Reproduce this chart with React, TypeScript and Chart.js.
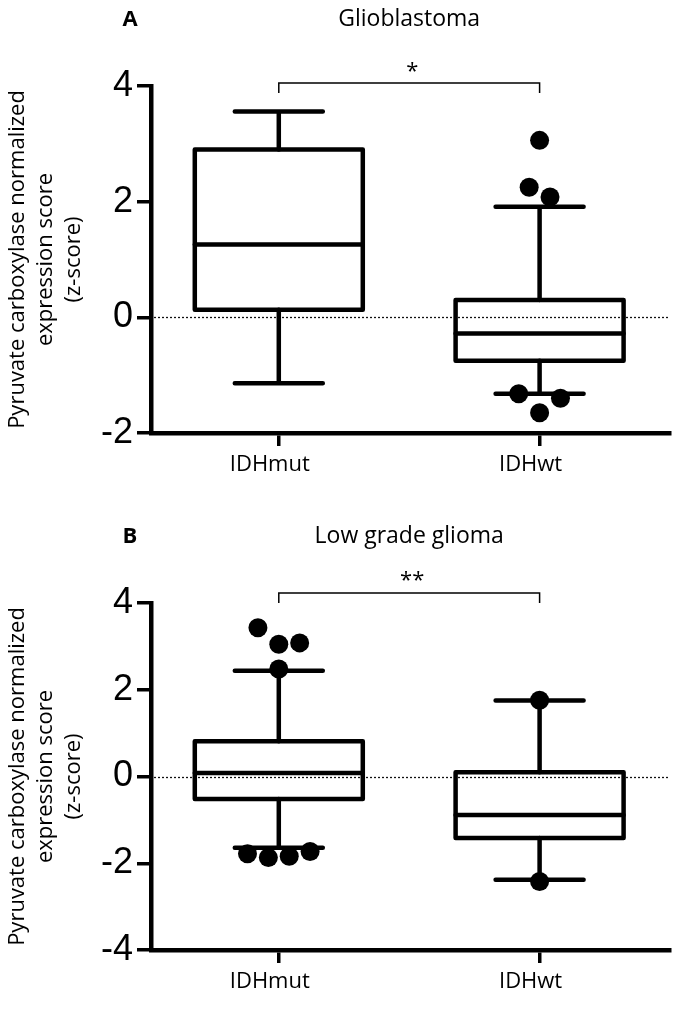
import React, { useEffect, useRef } from 'react';
import { Chart, registerables } from 'chart.js';

Chart.register(...registerables);

const categories = ['IDHmut', 'IDHwt'];

// Panel A – Glioblastoma
const gbmWhiskerLow = [-1.14, -1.32];
const gbmQ1 = [0.13, -0.75];
const gbmMedian = [1.26, -0.28];
const gbmQ3 = [2.9, 0.3];
const gbmWhiskerHigh = [3.56, 1.91];
const gbmOutlierGroup = [1, 1, 1, 1, 1, 1];
const gbmOutlierJitter = [0, -0.04, 0.04, -0.08, 0.08, 0];
const gbmOutlierValue = [3.06, 2.25, 2.08, -1.32, -1.4, -1.65];
const gbmTicks = [-2, 0, 2, 4];

// Panel B – Low grade glioma
const lggWhiskerLow = [-1.64, -2.38];
const lggQ1 = [-0.52, -1.42];
const lggMedian = [0.08, -0.89];
const lggQ3 = [0.81, 0.1];
const lggWhiskerHigh = [2.44, 1.75];
const lggOutlierGroup = [0, 0, 0, 0, 0, 0, 0, 0, 1, 1];
const lggOutlierJitter = [-0.08, 0, 0.08, 0, -0.12, -0.04, 0.04, 0.12, 0, 0];
const lggOutlierValue = [3.43, 3.05, 3.08, 2.48, -1.78, -1.87, -1.84, -1.73, 1.76, -2.42];
const lggTicks = [-4, -2, 0, 2, 4];

const yTitleLines = ['Pyruvate carboxylase normalized', 'expression score', '(z-score)'];

type Panel = {
  letter: string;
  title: string;
  stars: string;
  low: number[];
  q1: number[];
  med: number[];
  q3: number[];
  high: number[];
  oGroup: number[];
  oJitter: number[];
  oValue: number[];
  yTicks: number[];
  canvasTop: number;
  height: number;
  areaTop: number;
  areaBottom: number;
  titleBaseline: number;
  starsBaseline: number;
  bracketY: number;
};

const W = 677;
const TEXT_FONT = '"Open Sans", "Noto Sans", sans-serif';

const panels: Panel[] = [
  {
    letter: 'A', title: 'Glioblastoma', stars: '*',
    low: gbmWhiskerLow, q1: gbmQ1, med: gbmMedian, q3: gbmQ3, high: gbmWhiskerHigh,
    oGroup: gbmOutlierGroup, oJitter: gbmOutlierJitter, oValue: gbmOutlierValue,
    yTicks: gbmTicks,
    canvasTop: 0, height: 490, areaTop: 86, areaBottom: 433,
    titleBaseline: 26, starsBaseline: 78, bracketY: 83,
  },
  {
    letter: 'B', title: 'Low grade glioma', stars: '**',
    low: lggWhiskerLow, q1: lggQ1, med: lggMedian, q3: lggQ3, high: lggWhiskerHigh,
    oGroup: lggOutlierGroup, oJitter: lggOutlierJitter, oValue: lggOutlierValue,
    yTicks: lggTicks,
    canvasTop: 490, height: 519, areaTop: 113, areaBottom: 460,
    titleBaseline: 53, starsBaseline: 97, bracketY: 103,
  },
];

const BOX_HALF = 84;
const CAP_HALF = 44;
const STROKE = 4.5;

function makePlugin(p: Panel) {
  return {
    id: 'boxplot' + p.letter,
    beforeDatasetsDraw(chart: any) {
      const ctx = chart.ctx as CanvasRenderingContext2D;
      const xs = chart.scales.x;
      const ys = chart.scales.y;
      const area = chart.chartArea;
      ctx.save();
      // dotted zero line
      ctx.strokeStyle = '#111';
      ctx.lineWidth = 1.3;
      ctx.setLineDash([2, 2]);
      ctx.beginPath();
      const y0 = Math.round(ys.getPixelForValue(0)) + 0.5;
      ctx.moveTo(area.left + 3, y0);
      ctx.lineTo(area.right, y0);
      ctx.stroke();
      ctx.setLineDash([]);
      // boxes
      ctx.strokeStyle = '#000';
      ctx.lineWidth = STROKE;
      ctx.lineJoin = 'round';
      ctx.lineCap = 'round';
      categories.forEach((_, i) => {
        const cx = xs.getPixelForValue(i + 1);
        const yLow = ys.getPixelForValue(p.low[i]);
        const yQ1 = ys.getPixelForValue(p.q1[i]);
        const yMed = ys.getPixelForValue(p.med[i]);
        const yQ3 = ys.getPixelForValue(p.q3[i]);
        const yHigh = ys.getPixelForValue(p.high[i]);
        ctx.beginPath();
        ctx.rect(cx - BOX_HALF, yQ3, BOX_HALF * 2, yQ1 - yQ3);
        ctx.stroke();
        ctx.beginPath();
        ctx.moveTo(cx - BOX_HALF, yMed);
        ctx.lineTo(cx + BOX_HALF, yMed);
        // whiskers
        ctx.moveTo(cx, yQ3);
        ctx.lineTo(cx, yHigh);
        ctx.moveTo(cx, yQ1);
        ctx.lineTo(cx, yLow);
        ctx.moveTo(cx - CAP_HALF, yHigh);
        ctx.lineTo(cx + CAP_HALF, yHigh);
        ctx.moveTo(cx - CAP_HALF, yLow);
        ctx.lineTo(cx + CAP_HALF, yLow);
        ctx.stroke();
      });
      ctx.restore();
    },
    afterDraw(chart: any) {
      const ctx = chart.ctx as CanvasRenderingContext2D;
      const xs = chart.scales.x;
      const area = chart.chartArea;
      const x1 = xs.getPixelForValue(1);
      const x2 = xs.getPixelForValue(categories.length);
      const mid = (x1 + x2) / 2;
      ctx.save();
      ctx.fillStyle = '#000';
      ctx.textBaseline = 'alphabetic';
      ctx.textAlign = 'center';
      ctx.font = `bold 22px ${TEXT_FONT}`;
      ctx.fillText(p.letter, 130, p.titleBaseline);
      ctx.font = `23px ${TEXT_FONT}`;
      ctx.fillText(p.title, mid, p.titleBaseline);
      ctx.font = `22px ${TEXT_FONT}`;
      ctx.fillText(p.stars, mid + 3, p.starsBaseline);
      // bracket
      ctx.strokeStyle = '#000';
      ctx.lineWidth = 1.5;
      ctx.beginPath();
      ctx.moveTo(x1, p.bracketY + 10);
      ctx.lineTo(x1, p.bracketY);
      ctx.lineTo(x2, p.bracketY);
      ctx.lineTo(x2, p.bracketY + 10);
      ctx.stroke();
      // y title
      const cy = (area.top + area.bottom) / 2;
      ctx.textBaseline = 'middle';
      ctx.font = `22px ${TEXT_FONT}`;
      const xsTitle = [18, 46, 74];
      yTitleLines.forEach((line, k) => {
        ctx.save();
        ctx.translate(xsTitle[k], cy);
        ctx.rotate(-Math.PI / 2);
        ctx.fillText(line, 0, 0);
        ctx.restore();
      });
      ctx.restore();
    },
  };
}

function PanelChart({ p }: { p: Panel }) {
  const ref = useRef<HTMLCanvasElement | null>(null);
  useEffect(() => {
    if (!ref.current) return;
    const points = p.oValue.map((v, k) => ({ x: p.oGroup[k] + 1 + p.oJitter[k], y: v }));
    const yMin = Math.min(...p.yTicks);
    const yMax = Math.max(...p.yTicks);
    const chart = new Chart(ref.current, {
      type: 'scatter',
      data: {
        datasets: [
          {
            label: 'outliers',
            data: points,
            pointRadius: 9.5,
            pointHoverRadius: 9.5,
            backgroundColor: '#000',
            borderColor: '#000',
            borderWidth: 0,
          },
        ],
      },
      options: {
        animation: false,
        responsive: false,
        events: [],
        layout: { padding: { top: p.areaTop, right: 7, left: 0, bottom: 0 }, autoPadding: false },
        plugins: { legend: { display: false }, tooltip: { enabled: false }, title: { display: false } },
        scales: {
          x: {
            type: 'linear',
            min: 0.51,
            max: 2.5,
            afterBuildTicks: (s: any) => {
              s.ticks = categories.map((_, i) => ({ value: i + 1 }));
            },
            afterFit: (s: any) => {
              s.height = p.height - p.areaBottom;
            },
            ticks: {
              callback: (v: any) => categories[Math.round(Number(v)) - 1] ?? '',
              font: { family: TEXT_FONT, size: 22 },
              color: '#000',
              padding: 6,
              labelOffset: -9,
              maxRotation: 0,
              autoSkip: false,
            },
            grid: { drawOnChartArea: false, drawTicks: true, tickLength: 13, lineWidth: 3.5, color: '#000' },
            border: { display: true, width: STROKE, color: '#000' },
          },
          y: {
            type: 'linear',
            min: yMin,
            max: yMax,
            afterBuildTicks: (s: any) => {
              s.ticks = p.yTicks.map((v) => ({ value: v }));
            },
            afterFit: (s: any) => {
              s.width = 151;
            },
            ticks: {
              font: { family: '"Liberation Sans", Arial, sans-serif', size: 36 },
              color: '#000',
              padding: 4,
            },
            grid: { drawOnChartArea: false, drawTicks: true, tickLength: 14, lineWidth: 3.5, color: '#000' },
            border: { display: true, width: STROKE, color: '#000' },
          },
        },
      },
      plugins: [makePlugin(p)],
    } as any);
    return () => chart.destroy();
  }, [p]);
  return (
    <canvas
      ref={ref}
      width={W}
      height={p.height}
      style={{ position: 'absolute', left: 0, top: p.canvasTop, width: W, height: p.height, display: 'block' }}
    />
  );
}

export default function App() {
  return (
    <div style={{ position: 'absolute', left: 0, top: 0, width: W, height: 1009, background: '#fff' }}>
      {panels.map((p) => (
        <PanelChart key={p.letter} p={p} />
      ))}
    </div>
  );
}
